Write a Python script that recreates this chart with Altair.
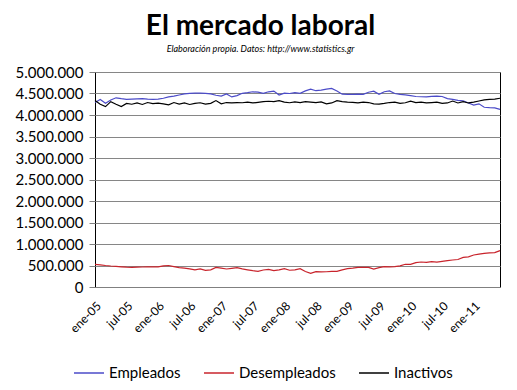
import altair as alt
import pandas as pd

month_names = ["ene", "feb", "mar", "abr", "may", "jun",
               "jul", "ago", "sep", "oct", "nov", "dic"]
years = ["05", "06", "07", "08", "09", "10", "11"]
n_months = 78  # ene-05 .. jun-11

empleados = [4290, 4360, 4275, 4350, 4400, 4380, 4365, 4370, 4375, 4380, 4370, 4365,
             4370, 4390, 4420, 4440, 4465, 4490, 4505, 4510, 4510, 4505, 4490, 4460,
             4440, 4490, 4420, 4450, 4505, 4520, 4540, 4530, 4505, 4540, 4555, 4465,
             4510, 4500, 4520, 4505, 4560, 4600, 4565, 4580, 4600, 4620, 4560, 4485,
             4480, 4480, 4485, 4480, 4530, 4555, 4480, 4540, 4560, 4500, 4480, 4470,
             4450, 4430, 4425, 4420, 4435, 4440, 4430, 4380, 4365, 4340, 4330, 4280,
             4230, 4260, 4180, 4170, 4165, 4130]

desempleados = [528, 515, 500, 488, 480, 470, 460, 457, 460, 465, 468, 470,
                470, 490, 500, 475, 450, 440, 420, 400, 419, 385, 400, 457,
                440, 419, 435, 449, 420, 400, 380, 364, 395, 411, 379, 400,
                426, 390, 400, 426, 360, 318, 357, 350, 355, 364, 364, 400,
                426, 440, 457, 457, 457, 418, 450, 472, 470, 472, 490, 528,
                525, 565, 581, 575, 589, 580, 595, 612, 628, 640, 690, 700,
                744, 765, 783, 795, 800, 845]

inactivos = [4335, 4250, 4195, 4310, 4250, 4195, 4270, 4250, 4280, 4245, 4290, 4265,
             4275, 4260, 4235, 4290, 4255, 4280, 4245, 4270, 4285, 4255, 4270, 4335,
             4260, 4290, 4280, 4290, 4285, 4300, 4280, 4295, 4310, 4320, 4310, 4335,
             4300, 4285, 4305, 4290, 4310, 4300, 4290, 4305, 4260, 4280, 4335, 4310,
             4300, 4295, 4280, 4300, 4290, 4260, 4255, 4270, 4290, 4300, 4270, 4285,
             4320, 4290, 4300, 4280, 4290, 4300, 4270, 4280, 4325, 4280, 4310, 4280,
             4300, 4325, 4350, 4365, 4370, 4390]

series_names = ["Empleados", "Desempleados", "Inactivos"]
series_colors = ["#4B4BC8", "#C8242C", "#000000"]

months = [f"{month_names[i % 12]}-{years[i // 12]}" for i in range(n_months)]
tick_labels = months[::6]

rows = []
for name, vals in zip(series_names, [empleados, desempleados, inactivos]):
    for m, v in zip(months, vals):
        rows.append({"mes": m, "serie": name, "valor": v * 1000})
df = pd.DataFrame(rows)

FONT = "Lato"

chart = alt.Chart(df).mark_line(strokeWidth=1.2).encode(
    x=alt.X("mes:O", sort=months,
            scale=alt.Scale(type="point", padding=0),
            axis=alt.Axis(values=tick_labels, title=None, labelAngle=-45,
                          labelAlign="right", labelBaseline="top",
                          labelPadding=13, labelFontSize=12, labelFont=FONT,
                          labelColor="#000", ticks=False, grid=False,
                          domainColor="#808080", labelOverlap=False)),
    y=alt.Y("valor:Q",
            scale=alt.Scale(domain=[0, 5000000], nice=False),
            axis=alt.Axis(values=list(range(0, 5000001, 500000)), title=None,
                          labelExpr="replace(format(datum.value, ',d'), regexp(',', 'g'), '.')",
                          labelFontSize=15, labelFont=FONT, labelColor="#000",
                          tickSize=6, tickColor="#808080", labelPadding=6,
                          gridColor="#868686", domain=False)),
    color=alt.Color("serie:N",
                    scale=alt.Scale(domain=series_names, range=series_colors),
                    legend=alt.Legend(title=None, orient="none", legendX=-22, legendY=285,
                                      direction="horizontal", symbolType="stroke",
                                      symbolSize=900, symbolStrokeWidth=1.5,
                                      labelFontSize=15, labelFont=FONT, labelColor="#000",
                                      columnPadding=20, labelOffset=4, padding=0)),
).properties(
    width=405, height=215,
    autosize=alt.AutoSizeParams(type="none"),
    padding={"left": 87, "top": 64, "right": 9, "bottom": 100},
    title=alt.TitleParams(
        text="El mercado laboral",
        subtitle="Elaboración propia. Datos: http://www.statistics.gr",
        font=FONT, fontSize=28, fontWeight="bold", color="#000",
        subtitleFont=FONT, subtitleFontSize=9, subtitleFontStyle="italic",
        subtitleColor="#000", subtitlePadding=4,
        anchor="middle", frame="group", dx=-37, offset=11),
).configure_view(stroke="#000", strokeWidth=1)

chart.save("out.html", embed_options={"renderer": "svg", "actions": False})
